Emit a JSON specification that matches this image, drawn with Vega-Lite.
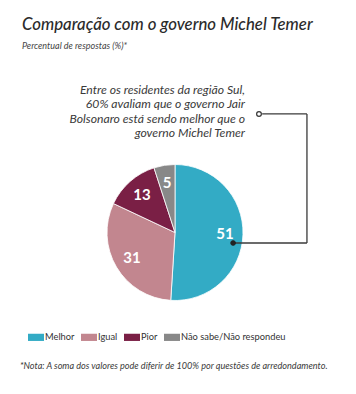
{
  "$schema": "https://vega.github.io/schema/vega-lite/v6.json",
  "width": 350,
  "height": 323,
  "autosize": {"type": "none"},
  "padding": {"left": 0, "top": 71, "right": 6, "bottom": 0},
  "background": "white",
  "config": {
    "view": {"stroke": null},
    "font": "Lato"
  },
  "title": {
    "text": "Comparação com o governo Michel Temer",
    "subtitle": "Percentual de respostas (%)*",
    "anchor": "start",
    "frame": "group",
    "dx": 22,
    "offset": 20,
    "font": "Lato",
    "fontSize": 16.8,
    "fontStyle": "italic",
    "fontWeight": 500,
    "color": "#2b2b2b",
    "subtitleFont": "Lato",
    "subtitleFontSize": 9,
    "subtitleFontStyle": "italic",
    "subtitleColor": "#444444",
    "subtitlePadding": 8
  },
  "data": {
    "values": [
      {"resposta": "Melhor", "valor": 51, "ordem": 1},
      {"resposta": "Igual", "valor": 31, "ordem": 2},
      {"resposta": "Pior", "valor": 13, "ordem": 3},
      {"resposta": "Não sabe/Não respondeu", "valor": 5, "ordem": 4}
    ]
  },
  "layer": [
    {
      "mark": {"type": "arc", "outerRadius": 68, "stroke": "white", "strokeWidth": 0.8},
      "encoding": {
        "theta": {"field": "valor", "type": "quantitative", "stack": true},
        "order": {"field": "ordem", "type": "quantitative"},
        "color": {
          "field": "resposta",
          "type": "nominal",
          "sort": ["Melhor", "Igual", "Pior", "Não sabe/Não respondeu"],
          "scale": {
            "domain": ["Melhor", "Igual", "Pior", "Não sabe/Não respondeu"],
            "range": ["#33abc5", "#c2868f", "#7a1f45", "#888888"]
          },
          "legend": {
            "orient": "none",
            "legendX": 28,
            "legendY": 258,
            "direction": "horizontal",
            "title": null,
            "symbolType": "M-1,-0.45H1V0.45H-1Z",
            "symbolSize": 256,
            "symbolStrokeWidth": 0,
            "symbolOpacity": 1,
            "labelFont": "Lato",
            "labelFontSize": 9.3,
            "labelColor": "#333333",
            "labelOffset": 1,
            "columnPadding": 6
          }
        }
      }
    },
    {
      "mark": {
        "type": "text",
        "radius": 50,
        "fontSize": 15,
        "fontWeight": "bold",
        "fill": "white",
        "font": "Lato"
      },
      "encoding": {
        "theta": {"field": "valor", "type": "quantitative", "stack": true},
        "order": {"field": "ordem", "type": "quantitative"},
        "text": {"field": "valor", "type": "quantitative"}
      }
    },
    {
      "data": {"values": [{}]},
      "mark": {"type": "rule", "stroke": "#3a3a3a", "strokeWidth": 1.3},
      "encoding": {
        "x": {"datum": 74.9, "type": "quantitative", "scale": {"domain": [0, 100]}, "axis": null},
        "x2": {"datum": 87.7},
        "y": {"datum": 13.3, "type": "quantitative", "scale": {"domain": [0, 100], "reverse": true}, "axis": null}
      }
    },
    {
      "data": {"values": [{}]},
      "mark": {"type": "rule", "stroke": "#3a3a3a", "strokeWidth": 1.3},
      "encoding": {
        "x": {"datum": 87.7, "type": "quantitative"},
        "y": {"datum": 13.3, "type": "quantitative"},
        "y2": {"datum": 53.25}
      }
    },
    {
      "data": {"values": [{}]},
      "mark": {"type": "rule", "stroke": "#3a3a3a", "strokeWidth": 1.3},
      "encoding": {
        "x": {"datum": 66.6, "type": "quantitative"},
        "x2": {"datum": 87.7},
        "y": {"datum": 53.25, "type": "quantitative"}
      }
    },
    {
      "data": {"values": [{}]},
      "mark": {"type": "point", "shape": "circle", "size": 22, "filled": true, "fill": "white", "stroke": "#3a3a3a", "strokeWidth": 1.3, "opacity": 1},
      "encoding": {
        "x": {"datum": 74.0, "type": "quantitative"},
        "y": {"datum": 13.3, "type": "quantitative"}
      }
    },
    {
      "data": {"values": [{}]},
      "mark": {"type": "point", "shape": "circle", "size": 22, "filled": true, "fill": "#222222", "stroke": "#222222", "strokeWidth": 1, "opacity": 1},
      "encoding": {
        "x": {"datum": 66.6, "type": "quantitative"},
        "y": {"datum": 53.25, "type": "quantitative"}
      }
    },
    {
      "data": {"values": [{}]},
      "mark": {
        "type": "text",
        "text": ["Entre os residentes da região Sul,", "60% avaliam que o governo Jair", "Bolsonaro está sendo melhor que o", "governo Michel Temer"],
        "align": "right",
        "baseline": "top",
        "lineHeight": 14.5,
        "fontSize": 12.2,
        "fontStyle": "italic",
        "fill": "#3a3a3a",
        "font": "Lato"
      },
      "encoding": {
        "x": {"datum": 70.0, "type": "quantitative"},
        "y": {"datum": 4.0, "type": "quantitative"}
      }
    },
    {
      "data": {"values": [{}]},
      "mark": {
        "type": "text",
        "text": "*Nota: A soma dos valores pode diferir de 100% por questões de arredondamento.",
        "align": "left",
        "baseline": "middle",
        "fontSize": 9.1,
        "fontStyle": "italic",
        "fill": "#3a3a3a",
        "font": "Lato"
      },
      "encoding": {
        "x": {"datum": 5.7, "type": "quantitative"},
        "y": {"datum": 91.3, "type": "quantitative"}
      }
    }
  ]
}
